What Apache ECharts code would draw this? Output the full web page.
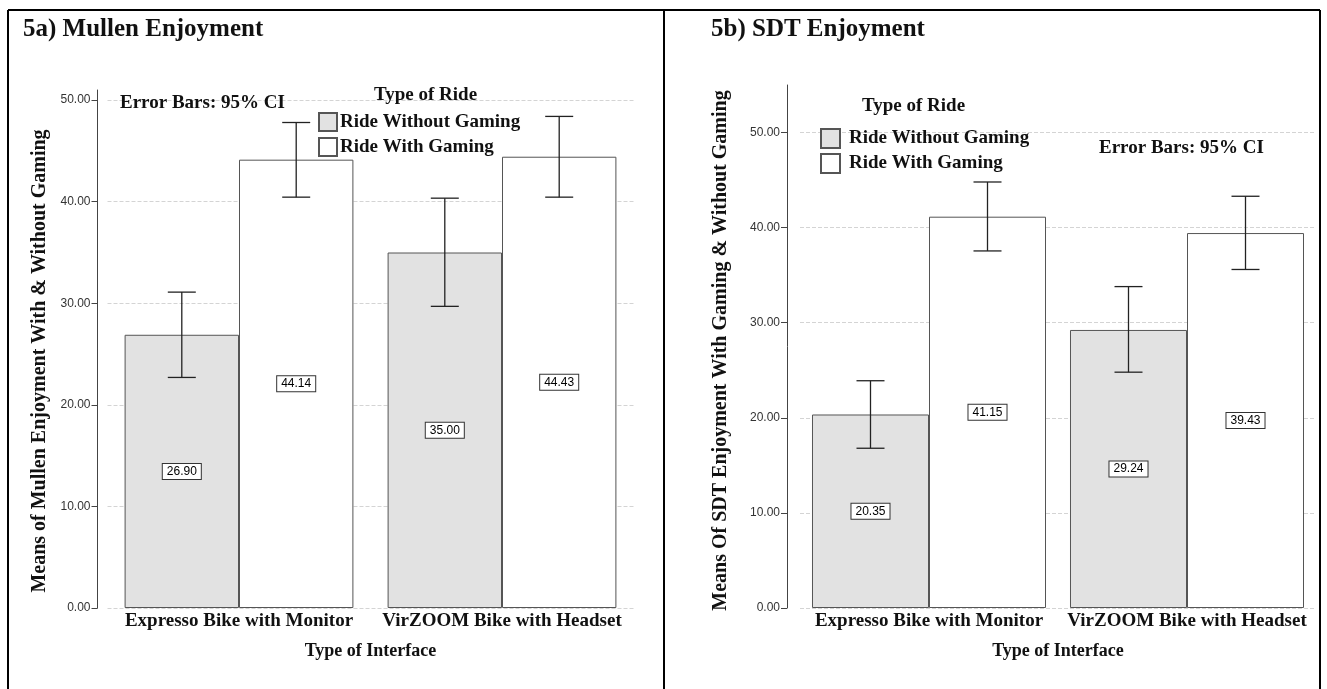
<!DOCTYPE html>
<html>
<head>
<meta charset="utf-8">
<title>Mullen / SDT Enjoyment</title>
<script src="https://cdn.jsdelivr.net/npm/echarts@6/dist/echarts.min.js"></script>
<style>
  html, body { margin: 0; padding: 0; background: #fff; }
  #chart { width: 1327px; height: 689px; }
</style>
</head>
<body>
<div id="chart"></div>
<script>
// categories and legend names
var categories = ['Expresso Bike with Monitor', 'VirZOOM Bike with Headset'];
var rideTypes = ['Ride Without Gaming', 'Ride With Gaming'];
var yTicks = [0, 10, 20, 30, 40, 50];

// 5a) Mullen means and 95% CI
var mullenWithout = [26.90, 35.00];
var mullenWith = [44.14, 44.43];
var mullenWithoutLow = [22.70, 29.70];
var mullenWithoutHigh = [31.10, 40.35];
var mullenWithLow = [40.45, 40.45];
var mullenWithHigh = [47.80, 48.40];

// 5b) SDT means and 95% CI
var sdtWithout = [20.35, 29.24];
var sdtWith = [41.15, 39.43];
var sdtWithoutLow = [16.80, 24.80];
var sdtWithoutHigh = [23.90, 33.80];
var sdtWithLow = [37.55, 35.60];
var sdtWithHigh = [44.80, 43.30];

var serif = 'Liberation Serif';
var sans = 'Liberation Sans';
var catGapL = 0.13, catGapR = 0.093;

function errData(lowA, highA, lowB, highB) {
  var d = [];
  for (var i = 0; i < categories.length; i++) {
    d.push([i, lowA[i], highA[i], -1]);
    d.push([i, lowB[i], highB[i], 1]);
  }
  return d;
}

function errRender(catGap) {
  return function (params, api) {
    var i = api.value(0), side = api.value(3);
    var band = api.size([1, 0])[0];
    var bw = band * (1 - catGap) / 2;
    var pLo = api.coord([i, api.value(1)]);
    var pHi = api.coord([i, api.value(2)]);
    var cx = pLo[0] + side * bw / 2;
    var half = 14;
    var st = { stroke: '#222', lineWidth: 1.3 };
    return {
      type: 'group',
      children: [
        { type: 'line', shape: { x1: cx, y1: pLo[1], x2: cx, y2: pHi[1] }, style: st },
        { type: 'line', shape: { x1: cx - half, y1: pLo[1], x2: cx + half, y2: pLo[1] }, style: st },
        { type: 'line', shape: { x1: cx - half, y1: pHi[1], x2: cx + half, y2: pHi[1] }, style: st }
      ]
    };
  };
}

function yAx(gridIdx, max, name, offset, nameGap, shift) {
  return {
    type: 'value', gridIndex: gridIdx, min: 0, max: max, interval: 10, offset: offset,
    name: name, nameLocation: 'middle', nameGap: nameGap, nameRotate: 90,
    nameTextStyle: { fontFamily: serif, fontWeight: 'bold', fontSize: 20, color: '#111', padding: [0, shift, 0, 0] },
    axisLine: { show: true, lineStyle: { color: '#444', width: 1 } },
    axisTick: { show: true, length: 6, customValues: yTicks, lineStyle: { color: '#444' } },
    axisLabel: {
      customValues: yTicks, margin: 7, fontFamily: sans, fontSize: 12, color: '#333',
      formatter: function (v) { return v.toFixed(2); }
    },
    splitLine: { show: true, lineStyle: { color: '#d4d4d4', type: 'dashed', width: 1 } }
  };
}

function xAx(gridIdx) {
  return {
    type: 'category', gridIndex: gridIdx, data: categories,
    name: 'Type of Interface', nameLocation: 'middle', nameGap: 34,
    nameTextStyle: { fontFamily: serif, fontWeight: 'bold', fontSize: 18, color: '#111' },
    axisLine: { show: false }, axisTick: { show: false },
    axisLabel: { margin: 4, fontFamily: serif, fontWeight: 'bold', fontSize: 19, color: '#111', interval: 0 }
  };
}

var barLabel = {
  show: true, position: 'inside', fontFamily: sans, fontSize: 12, color: '#000',
  backgroundColor: '#fff', borderColor: '#333', borderWidth: 1, padding: [2, 4, 1, 4],
  formatter: function (p) { return p.value.toFixed(2); }
};
var grayStyle = { color: '#e2e2e2', borderColor: '#555', borderWidth: 1 };
var whiteStyle = { color: '#ffffff', borderColor: '#555', borderWidth: 1 };

function txt(text, left, top, size) {
  return {
    text: text, left: left, top: top, padding: 0,
    textStyle: { fontFamily: serif, fontWeight: 'bold', fontSize: size, color: '#111' }
  };
}

var chart = echarts.init(document.getElementById('chart'));
chart.setOption({
  animation: false,
  backgroundColor: '#fff',
  title: [
    txt('5a) Mullen Enjoyment', 23, 17, 25),
    txt('5b) SDT Enjoyment', 711, 17, 25),
    txt('Type of Ride', 374, 86, 19),
    txt('Error Bars: 95% CI', 120, 94, 19),
    txt('Type of Ride', 862, 97, 19),
    txt('Error Bars: 95% CI', 1099, 139, 19)
  ],
  legend: [
    {
      data: rideTypes, orient: 'vertical', left: 318, top: 112, icon: 'rect', padding: 0,
      itemWidth: 18, itemHeight: 18, itemGap: 5, selectedMode: false,
      textStyle: { fontFamily: serif, fontWeight: 'bold', fontSize: 19, color: '#111', padding: [0, 0, 0, -2] }
    },
    {
      data: rideTypes, orient: 'vertical', left: 820, top: 128, icon: 'rect', padding: 0,
      itemWidth: 19, itemHeight: 19, itemGap: 4, selectedMode: false,
      textStyle: { fontFamily: serif, fontWeight: 'bold', fontSize: 19, color: '#111', padding: [0, 0, 0, 4] }
    }
  ],
  grid: [
    { left: 107.5, top: 90, width: 526, height: 518 },
    { left: 800, top: 85, width: 516, height: 523 }
  ],
  xAxis: [xAx(0), xAx(1)],
  yAxis: [
    yAx(0, 51, 'Means of Mullen Enjoyment With & Without Gaming', 10, 48, 24),
    yAx(1, 55, 'Means Of SDT Enjoyment With Gaming & Without Gaming', 13, 56, 8)
  ],
  series: [
    { name: rideTypes[0], type: 'bar', xAxisIndex: 0, yAxisIndex: 0, data: mullenWithout,
      barGap: '0%', barCategoryGap: (catGapL * 100) + '%', itemStyle: grayStyle, label: barLabel },
    { name: rideTypes[1], type: 'bar', xAxisIndex: 0, yAxisIndex: 0, data: mullenWith,
      barGap: '0%', barCategoryGap: (catGapL * 100) + '%', itemStyle: whiteStyle, label: barLabel },
    { name: 'ci5a', type: 'custom', xAxisIndex: 0, yAxisIndex: 0, z: 5,
      data: errData(mullenWithoutLow, mullenWithoutHigh, mullenWithLow, mullenWithHigh),
      encode: { x: 0, y: [1, 2] }, renderItem: errRender(catGapL) },
    { name: rideTypes[0], type: 'bar', xAxisIndex: 1, yAxisIndex: 1, data: sdtWithout,
      barGap: '0%', barCategoryGap: (catGapR * 100) + '%', itemStyle: grayStyle, label: barLabel },
    { name: rideTypes[1], type: 'bar', xAxisIndex: 1, yAxisIndex: 1, data: sdtWith,
      barGap: '0%', barCategoryGap: (catGapR * 100) + '%', itemStyle: whiteStyle, label: barLabel },
    { name: 'ci5b', type: 'custom', xAxisIndex: 1, yAxisIndex: 1, z: 5,
      data: errData(sdtWithoutLow, sdtWithoutHigh, sdtWithLow, sdtWithHigh),
      encode: { x: 0, y: [1, 2] }, renderItem: errRender(catGapR) }
  ],
  graphic: [
    // figure frame
    { type: 'line', shape: { x1: 8, y1: 10, x2: 1320, y2: 10 }, style: { stroke: '#000', lineWidth: 2 } },
    { type: 'line', shape: { x1: 8, y1: 10, x2: 8, y2: 689 }, style: { stroke: '#000', lineWidth: 2 } },
    { type: 'line', shape: { x1: 664, y1: 10, x2: 664, y2: 689 }, style: { stroke: '#000', lineWidth: 2 } },
    { type: 'line', shape: { x1: 1320, y1: 10, x2: 1320, y2: 689 }, style: { stroke: '#000', lineWidth: 2 } }
  ]
});
</script>
</body>
</html>
